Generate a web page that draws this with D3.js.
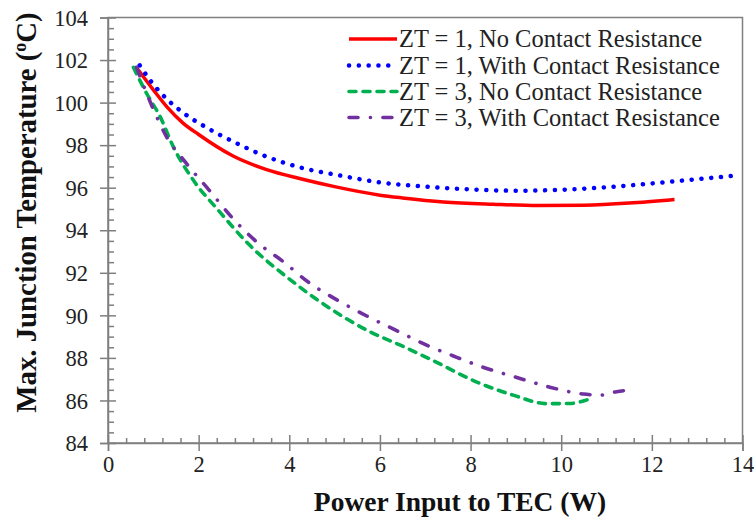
<!DOCTYPE html>
<html><head><meta charset="utf-8">
<script src="https://cdn.jsdelivr.net/npm/d3@7"></script>
<style>body{margin:0;background:#fff}</style></head>
<body>
<svg id="chart" width="754" height="521"></svg>
<script>
const xMajorTicks = [0, 2, 4, 6, 8, 10, 12, 14];
const yMajorTicks = [84, 86, 88, 90, 92, 94, 96, 98, 100, 102, 104];
const seriesNames = [
  "ZT = 1, No Contact Resistance",
  "ZT = 1, With Contact Resistance",
  "ZT = 3, No Contact Resistance",
  "ZT = 3, With Contact Resistance"
];
const zt1NoCR = [[0.62,101.67],[1.0,100.6],[1.3,99.8],[1.65,99.05],[2.0,98.5],[2.75,97.5],[3.5,96.85],[4.25,96.42],[5.0,96.05],[6.0,95.65],[6.5,95.52],[7.4,95.33],[8.5,95.22],[9.5,95.16],[10.5,95.18],[11.5,95.28],[12.5,95.45]];
const zt1WithCR = [[0.7,101.75],[0.93,101.05],[1.33,100.1],[1.66,99.52],[2.18,98.82],[2.77,98.16],[3.5,97.46],[4.3,96.92],[5.1,96.58],[6.0,96.25],[7.0,96.05],[8.0,95.92],[9.0,95.86],[10.0,95.9],[11.0,96.02],[12.0,96.2],[13.0,96.4],[13.76,96.55]];
const zt3NoCR = [[0.56,101.66],[0.85,100.44],[1.15,99.34],[1.44,97.93],[1.9,96.3],[2.43,94.95],[3.1,93.35],[3.94,91.81],[4.68,90.64],[5.78,89.23],[6.5,88.55],[7.1,87.95],[8.21,86.8],[8.94,86.25],[9.68,85.85],[10.19,85.86],[10.67,86.1]];
const zt3WithCR = [[0.63,101.66],[0.96,99.89],[1.29,98.4],[1.73,97.14],[2.23,95.89],[2.77,94.52],[3.3,93.42],[3.87,92.52],[4.46,91.5],[5.05,90.73],[5.71,89.97],[6.37,89.28],[7.03,88.6],[7.62,88.09],[8.29,87.55],[9.02,87.08],[9.72,86.64],[10.49,86.3],[10.86,86.25],[11.22,86.41],[11.63,86.52]];

const seriesData = [zt1NoCR, zt1WithCR, zt3NoCR, zt3WithCR];
const styles = [
  {color:"#ff0000", width:3.5, dash:null},
  {color:"#0000ff", width:4.5, dash:"0.1 9.7"},
  {color:"#00b050", width:3.6, dash:"7 7"},
  {color:"#7030a0", width:3.6, dash:"9 12.4 0.1 12.4"}
];

const svg = d3.select("#chart");
const L = 108, R = 742.5, T = 17.5, B = 443;
const x = d3.scaleLinear().domain([0, 14]).range([L, R]);
const y = d3.scaleLinear().domain([84, 104]).range([B, T]);
const font = "'Liberation Serif','Times New Roman',serif";
const axisColor = "#7f7f7f";

// frame
svg.append("rect").attr("x", L).attr("y", T).attr("width", R - L).attr("height", B - T)
  .attr("fill", "none").attr("stroke", axisColor).attr("stroke-width", 1.5);

// minor ticks
const xMinor = d3.range(0, 14.001, 0.4).filter(v => Math.abs(v/2 - Math.round(v/2)) > 1e-6);
const yMinor = d3.range(84, 104.001, 0.5).filter(v => Math.abs(v/2 - Math.round(v/2)) > 1e-6);
svg.append("g").attr("transform", `translate(0,${B})`)
  .call(d3.axisBottom(x).tickValues(xMinor).tickSize(-5).tickFormat(""))
  .call(g => { g.select(".domain").remove(); g.selectAll("line").attr("stroke", axisColor).attr("stroke-width", 1.5); });
svg.append("g").attr("transform", `translate(${L},0)`)
  .call(d3.axisLeft(y).tickValues(yMinor).tickSize(-6).tickFormat(""))
  .call(g => { g.select(".domain").remove(); g.selectAll("line").attr("stroke", axisColor).attr("stroke-width", 1.5); });

// major ticks
svg.append("g").attr("transform", `translate(0,${B})`)
  .attr("font-family", font)
  .call(d3.axisBottom(x).tickValues(xMajorTicks).tickSize(8))
  .call(g => {
    g.attr("font-family", font);
    g.select(".domain").attr("stroke", axisColor).attr("stroke-width", 1.5);
    g.selectAll("line").attr("y1", -8).attr("stroke", axisColor).attr("stroke-width", 1.5);
    g.selectAll("text").attr("y", 29).attr("dy", 0).attr("fill", "#222")
      .style("font-family", font).style("font-size", "22.5px");
  });
svg.append("g").attr("transform", `translate(${L},0)`)
  .call(d3.axisLeft(y).tickValues(yMajorTicks).tickSize(8))
  .call(g => {
    g.attr("font-family", font);
    g.select(".domain").attr("stroke", axisColor).attr("stroke-width", 1.5);
    g.selectAll("line").attr("x1", 8).attr("stroke", axisColor).attr("stroke-width", 1.5);
    g.selectAll("text").attr("x", -20).attr("dy", "0.34em").attr("fill", "#222")
      .style("font-family", font).style("font-size", "22.5px");
  });

// axis titles
svg.append("text").attr("x", 460).attr("y", 510.5).attr("text-anchor", "middle")
  .style("font-family", font).style("font-size", "27.5px").style("font-weight", "bold").attr("fill", "#111")
  .text("Power Input to TEC (W)");
const yt = svg.append("text").attr("transform", "translate(36,212.5) rotate(-90)").attr("text-anchor", "middle")
  .style("font-family", font).style("font-size", "28.8px").style("font-weight", "bold").attr("fill", "#111");
yt.append("tspan").text("Max. Junction Temperature (");
yt.append("tspan").attr("dy", -10).style("font-size", "18px").text("o");
yt.append("tspan").attr("dy", 10).text("C)");

// lines
const line = d3.line().x(d => x(d[0])).y(d => y(d[1])).curve(d3.curveMonotoneX);
seriesData.forEach((data, i) => {
  const s = styles[i];
  svg.append("path").datum(data).attr("d", line).attr("fill", "none")
    .attr("stroke", s.color).attr("stroke-width", s.width)
    .attr("stroke-linecap", s.dash ? "round" : "butt")
    .attr("stroke-dasharray", s.dash);
});

// legend
const legY = [39, 65.5, 91.5, 117.5];
seriesNames.forEach((name, i) => {
  const s = styles[i];
  svg.append("line").attr("x1", 349).attr("x2", 397).attr("y1", legY[i]).attr("y2", legY[i])
    .attr("stroke", s.color).attr("stroke-width", s.width)
    .attr("stroke-linecap", s.dash ? "round" : "butt").attr("stroke-dasharray", s.dash);
  svg.append("text").attr("x", 399).attr("y", legY[i]).attr("dy", "0.33em")
    .style("font-family", font).style("font-size", "24.5px").attr("fill", "#222").text(name);
});
</script>
</body></html>
